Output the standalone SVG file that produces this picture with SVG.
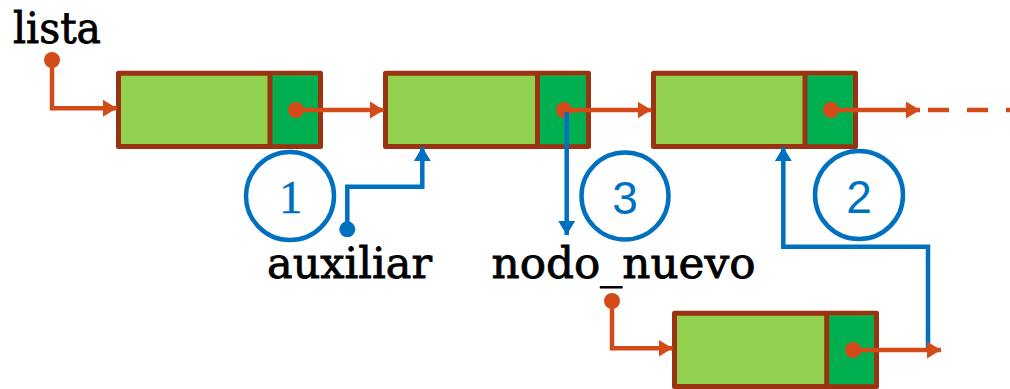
<svg xmlns="http://www.w3.org/2000/svg" width="1010" height="389" viewBox="0 0 1010 389">
<style>
.box{stroke:#993311;stroke-width:5;stroke-linejoin:round}
.data{fill:#92D050}
.ptr{fill:#00B050}
.div{stroke:#993311;stroke-width:5}
.or{fill:none;stroke:#D34B18;stroke-width:4.5}
.bl{fill:none;stroke:#0070C0;stroke-width:4.5}
.odot{fill:#D34B18}
.bdot{fill:#0070C0}
.step{fill:#fff;stroke:#0070C0;stroke-width:4.5}
.lbl{font-family:"DejaVu Serif","Liberation Serif",serif;font-size:42px;fill:#000;stroke:#000;stroke-width:0.8}
.num{font-size:46px;fill:#0070C0;text-anchor:middle}
.one{font-family:"Liberation Serif","DejaVu Serif",serif;font-size:46px;stroke:#0070C0;stroke-width:0.6}
.sans{font-family:"Liberation Sans",Arial,sans-serif}
</style>
<defs>
<marker id="ao" markerUnits="userSpaceOnUse" markerWidth="15" markerHeight="18" refX="14" refY="8.5" orient="auto"><path d="M0,0 L14,8.5 L0,17 z" fill="#D34B18"/></marker>
<marker id="ab" markerUnits="userSpaceOnUse" markerWidth="15" markerHeight="18" refX="14" refY="8.5" orient="auto"><path d="M0,0 L14,8.5 L0,17 z" fill="#0070C0"/></marker>
</defs>
<rect width="1010" height="389" fill="#fff"/>

<g id="node1">
<rect class="box data" x="118.5" y="73.2" width="202" height="73.3"/>
<rect class="ptr" x="270" y="75.5" width="48" height="68.7"/>
<line class="div" x1="270" y1="73.2" x2="270" y2="146.5"/>
</g>
<g id="node2">
<rect class="box data" x="385.5" y="73.2" width="203" height="73.3"/>
<rect class="ptr" x="537.5" y="75.5" width="48.5" height="68.7"/>
<line class="div" x1="537.5" y1="73.2" x2="537.5" y2="146.5"/>
</g>
<g id="node3">
<rect class="box data" x="653.5" y="73.2" width="202" height="73.3"/>
<rect class="ptr" x="805" y="75.5" width="48" height="68.7"/>
<line class="div" x1="805" y1="73.2" x2="805" y2="146.5"/>
</g>
<g id="node4">
<rect class="box data" x="674.5" y="313.2" width="202" height="73.3"/>
<rect class="ptr" x="826.7" y="315.5" width="47.3" height="68.7"/>
<line class="div" x1="826.7" y1="313.2" x2="826.7" y2="386.5"/>
</g>

<g id="labels">
<text class="lbl" x="13" y="42.7" textLength="88" lengthAdjust="spacingAndGlyphs">lista</text>
<text class="lbl" x="267" y="278.3" textLength="165" lengthAdjust="spacingAndGlyphs">auxiliar</text>
<text class="lbl" x="491.5" y="278.3" textLength="264" lengthAdjust="spacingAndGlyphs">nodo_nuevo</text>
</g>

<g id="step1">
<circle class="step" cx="290" cy="196" r="44"/>
<text class="num one" x="290.7" y="213.3">1</text>
</g>
<g id="step3">
<circle class="step" cx="625" cy="196" r="43.5"/>
<text class="num sans" x="625" y="214.3">3</text>
</g>
<g id="step2">
<circle class="step" cx="859" cy="195" r="44"/>
<text class="num sans" x="859" y="213.3">2</text>
</g>

<g id="connectors">
<path class="or" d="M52,60 V108.3 H117" marker-end="url(#ao)"/>
<path class="or" d="M296,110 H384" marker-end="url(#ao)"/>
<path class="or" d="M564,110 H651.5" marker-end="url(#ao)"/>
<path class="or" d="M831,110 H920" marker-end="url(#ao)"/>
<path class="or" d="M928,110 H1010" stroke-dasharray="21 18"/>
<path class="or" d="M612,301 V348.3 H672.5" marker-end="url(#ao)"/>
<path class="bl" d="M928,348 V246.7 H783.3 V147" marker-end="url(#ab)"/>
<path class="or" d="M853,350 H941" marker-end="url(#ao)"/>
<circle class="odot" cx="52" cy="60" r="8"/>
<circle class="odot" cx="296" cy="110" r="8"/>
<circle class="odot" cx="564" cy="110" r="8"/>
<circle class="odot" cx="831" cy="110" r="8"/>
<circle class="odot" cx="612" cy="301" r="8"/>
<circle class="odot" cx="853" cy="350" r="8"/>
<path class="bl" d="M347.3,229 V186.7 H422.3 V147" marker-end="url(#ab)"/>
<path class="bl" d="M566.7,112 V235" marker-end="url(#ab)"/>
<circle class="bdot" cx="347.3" cy="229.3" r="8"/>
</g>
</svg>
